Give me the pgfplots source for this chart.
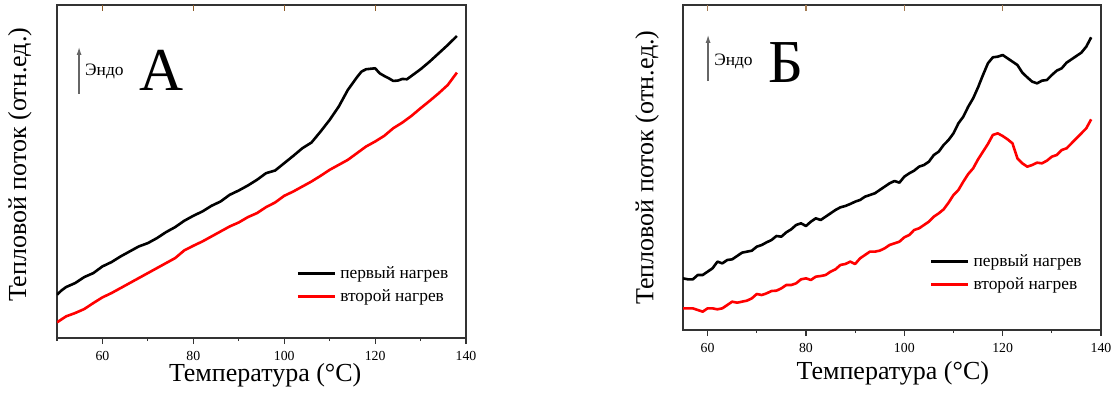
\documentclass[border=0pt]{standalone}
\usepackage{fontspec}
\setmainfont{Liberation Serif}
\usepackage{pgfplots}
\pgfplotsset{compat=1.18}
\usetikzlibrary{arrows.meta}
\definecolor{tickbrown}{RGB}{140,90,40}
\pgfplotsset{
 myax/.style={
  scale only axis,
  axis line style={black!80, line width=0.6pt},
  ytick=\empty,
  xtick={60,80,100,120,140},
  minor xtick={50,70,90,110,130},
  xtick pos=bottom,
  tick align=outside,
  major tick length=3pt, minor tick length=1.5pt,
  every tick/.style={black!80, line width=0.6pt},
  /pgf/number format/assume math mode=true,
  ticklabel style={font=\fontsize{6.9}{8}\selectfont},
  label style={font=\fontsize{13}{15}\selectfont},
  xlabel={Температура (°C)},
  ylabel={Тепловой поток (отн.ед.)},
  legend style={draw=none, fill=none, inner sep=0pt, font=\fontsize{8.7}{10.5}\selectfont},
  legend cell align=left,
  legend image code/.code={\draw[#1, line width=1.5pt] (0pt,0pt) -- (18.5pt,0pt);},
  every axis plot/.append style={line width=1.3pt, line join=round},
 }
}
\begin{document}
\begin{tikzpicture}
\useasboundingbox (0,0) rectangle (559pt,199pt);
% Panel A
\begin{axis}[myax,
  at={(28.5pt,30pt)}, anchor=south west,
  width=204.5pt, height=166.5pt,
  xmin=50, xmax=140, ymin=0, ymax=1000,
  xlabel style={at={(axis description cs:0.509,-0.111)}, anchor=center},
  ylabel style={at={(axis description cs:-0.0905,0.52)}, anchor=center},
  legend style={at={(axis description cs:0.584,0.158)}, anchor=west},
]
\addplot[black] coordinates {
(50,130) (51,143) (52,153) (54,165) (56,183) (58,195) (60,215) (62,228) (64,245) (66,260) (68,275) (70,285) (72,300) (74,318) (76,333) (78,352) (80,367) (82,380) (84,397) (86,410) (88,430) (90,443) (92,458) (94,475) (96,495) (98,503) (100,525) (102,547) (104,570) (106,587) (108,620) (110,655) (112,695) (114,745) (116,783) (117,800) (118,807) (120,810) (121,795) (122,787) (123,780) (124,772) (125,773) (126,778) (127,777) (128,787) (130,807) (132,830) (134,855) (136,880) (138,907)
};
\addlegendentry{первый нагрев}
\addplot[red] coordinates {
(50,47) (52,65) (54,75) (56,87) (58,105) (60,122) (62,135) (64,150) (66,165) (68,180) (70,195) (72,210) (74,225) (76,240) (78,263) (80,277) (82,290) (84,305) (86,320) (88,335) (90,347) (92,363) (94,375) (96,393) (98,407) (100,427) (102,440) (104,455) (106,470) (108,487) (110,505) (112,520) (114,535) (116,555) (118,575) (120,590) (122,607) (124,630) (126,647) (128,667) (130,690) (132,712) (134,735) (136,760) (138,797)
};
\addlegendentry{второй нагрев}
\pgfplotsinvokeforeach{60,80,100,120}{\draw[tickbrown,line width=0.6pt] (axis cs:#1,1000) -- ([yshift=-3pt]axis cs:#1,1000);}
\draw[-{Latex[length=4pt,width=2.5pt]}, black!60, line width=0.6pt] (axis description cs:0.054,0.733) -- (axis description cs:0.054,0.874);
\node[anchor=west, inner sep=0pt, font=\fontsize{8.7}{10}\selectfont] at (axis description cs:0.068,0.802) {Эндо};
\node[anchor=base, inner sep=0pt, font=\fontsize{30.5}{32}\selectfont] at (axis description cs:0.2555,0.742) {А};
\end{axis}
% Panel B
\begin{axis}[myax,
  at={(341.5pt,34pt)}, anchor=south west,
  width=209pt, height=162.5pt,
  xmin=55, xmax=140, ymin=0, ymax=975,
  xlabel style={at={(axis description cs:0.502,-0.132)}, anchor=center},
  ylabel style={at={(axis description cs:-0.086,0.50)}, anchor=center},
  legend style={at={(axis description cs:0.589,0.175)}, anchor=west},
]
\addplot[black] coordinates {
(55,155) (56,152) (57,152) (58,165) (59,165) (60,175) (61,185) (62,205) (63,200) (64,210) (65,212) (66,222) (67,232) (68,235) (69,238) (70,250) (71,255) (72,263) (73,270) (74,282) (75,280) (76,293) (77,302) (78,315) (79,320) (80,312) (81,325) (82,335) (83,330) (84,340) (85,350) (86,360) (87,368) (88,372) (89,378) (90,385) (91,390) (92,400) (93,405) (94,410) (95,420) (96,430) (97,440) (98,447) (99,442) (100,460) (101,470) (102,478) (103,490) (104,495) (105,505) (106,525) (107,535) (108,555) (109,570) (110,590) (111,620) (112,640) (113,670) (114,695) (115,728) (116,765) (117,800) (118,818) (119,820) (120,825) (121,815) (122,805) (123,795) (124,772) (125,758) (126,745) (127,740) (128,748) (129,750) (130,765) (131,778) (132,785) (133,802) (134,812) (135,822) (136,832) (137,850) (138,878)
};
\addlegendentry{первый нагрев}
\addplot[red] coordinates {
(55,65) (56,65) (57,65) (58,60) (59,55) (60,65) (61,65) (62,62) (63,65) (64,75) (65,85) (66,82) (67,85) (68,88) (69,95) (70,108) (71,105) (72,110) (73,117) (74,118) (75,125) (76,135) (77,135) (78,140) (79,152) (80,155) (81,150) (82,160) (83,162) (84,165) (85,175) (86,182) (87,195) (88,198) (89,205) (90,198) (91,215) (92,225) (93,235) (94,235) (95,238) (96,245) (97,255) (98,260) (99,265) (100,278) (101,285) (102,300) (103,305) (104,315) (105,325) (106,340) (107,350) (108,362) (109,382) (110,405) (111,420) (112,445) (113,468) (114,485) (115,512) (116,535) (117,558) (118,585) (119,590) (120,582) (121,572) (122,560) (123,515) (124,500) (125,490) (126,495) (127,502) (128,500) (129,508) (130,520) (131,525) (132,540) (133,545) (134,560) (135,575) (136,590) (137,605) (138,632)
};
\addlegendentry{второй нагрев}
\pgfplotsinvokeforeach{60,80,100,120}{\draw[tickbrown!80,line width=0.6pt] (axis cs:#1,975) -- ([yshift=-3pt]axis cs:#1,975);}
\draw[-{Latex[length=4pt,width=2.5pt]}, black!60, line width=0.6pt] (axis description cs:0.060,0.766) -- (axis description cs:0.060,0.908);
\node[anchor=west, inner sep=0pt, font=\fontsize{8.7}{10}\selectfont] at (axis description cs:0.074,0.825) {Эндо};
\node[anchor=base, inner sep=0pt, font=\fontsize{30.5}{32}\selectfont] at (axis description cs:0.2476,0.760) {Б};
\end{axis}
\end{tikzpicture}
\end{document}
